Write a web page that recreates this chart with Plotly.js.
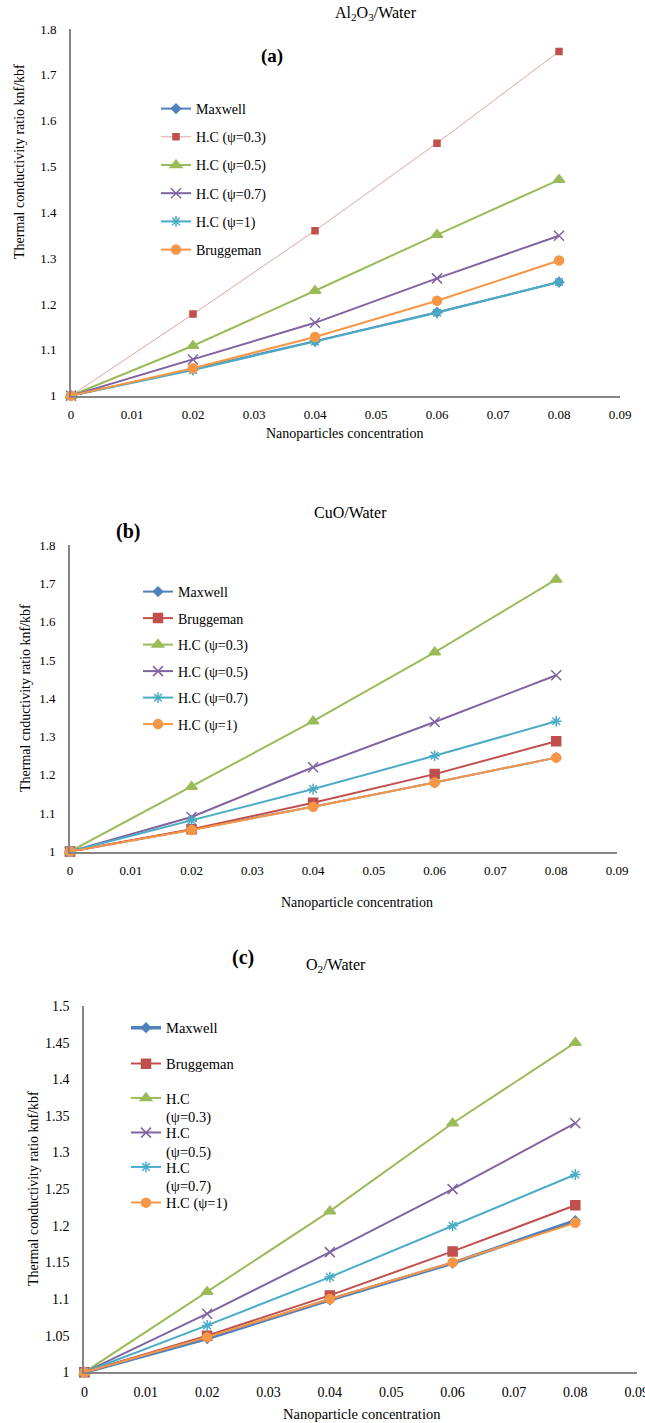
<!DOCTYPE html>
<html>
<head>
<meta charset="utf-8">
<script src="https://cdn.plot.ly/plotly-3.0.1.min.js"></script>
<style>html,body{margin:0;padding:0;background:#fff;overflow:hidden;} #chart{width:645px;height:1423px;}</style>
</head>
<body>
<div id="chart"></div>
<script>
// ---------- data ----------
const conc = [0, 0.02, 0.04, 0.06, 0.08];

// (a) Al2O3/Water
const maxwellA = [1, 1.058, 1.119, 1.182, 1.248];
const hc03A    = [1, 1.178, 1.360, 1.551, 1.751];
const hc05A    = [1, 1.109, 1.229, 1.351, 1.471];
const hc07A    = [1, 1.079, 1.159, 1.256, 1.349];
const hc1A     = [1, 1.056, 1.118, 1.181, 1.248];
const bruggA   = [1, 1.060, 1.128, 1.207, 1.295];

// (b) CuO/Water
const maxwellB = [1, 1.057, 1.117, 1.180, 1.245];
const bruggB   = [1, 1.058, 1.127, 1.202, 1.288];
const hc03B    = [1, 1.169, 1.340, 1.520, 1.710];
const hc05B    = [1, 1.090, 1.220, 1.338, 1.460];
const hc07B    = [1, 1.081, 1.163, 1.250, 1.340];
const hc1B     = [1, 1.056, 1.117, 1.180, 1.245];

// (c) O2/Water
const maxwellC = [1, 1.046, 1.099, 1.149, 1.207];
const bruggC   = [1, 1.050, 1.105, 1.165, 1.228];
const hc03C    = [1, 1.110, 1.220, 1.340, 1.450];
const hc05C    = [1, 1.080, 1.164, 1.250, 1.340];
const hc07C    = [1, 1.064, 1.130, 1.200, 1.270];
const hc1C     = [1, 1.048, 1.100, 1.150, 1.204];

// tick labels
const xTicks = [0, 0.01, 0.02, 0.03, 0.04, 0.05, 0.06, 0.07, 0.08, 0.09];
const xTickText = ["0", "0.01", "0.02", "0.03", "0.04", "0.05", "0.06", "0.07", "0.08", "0.09"];
const yTicksAB = [1, 1.1, 1.2, 1.3, 1.4, 1.5, 1.6, 1.7, 1.8];
const yTickTextAB = ["1", "1.1", "1.2", "1.3", "1.4", "1.5", "1.6", "1.7", "1.8"];
const yTicksC = [1, 1.05, 1.1, 1.15, 1.2, 1.25, 1.3, 1.35, 1.4, 1.45, 1.5];
const yTickTextC = ["1", "1.05", "1.1", "1.15", "1.2", "1.25", "1.3", "1.35", "1.4", "1.45", "1.5"];

// names
const namesA = ["Maxwell", "H.C (ψ=0.3)", "H.C (ψ=0.5)", "H.C (ψ=0.7)", "H.C (ψ=1)", "Bruggeman"];
const namesB = ["Maxwell", "Bruggeman", "H.C (ψ=0.3)", "H.C (ψ=0.5)", "H.C (ψ=0.7)", "H.C (ψ=1)"];
const namesC = ["Maxwell", "Bruggeman", "H.C<br>(ψ=0.3)", "H.C<br>(ψ=0.5)", "H.C<br>(ψ=0.7)", "H.C (ψ=1)"];

const titles = ["Al<sub>2</sub>O<sub>3</sub>/Water", "CuO/Water", "O<sub>2</sub>/Water"];
const panelLabels = ["(a)", "(b)", "(c)"];
const xTitles = ["Nanoparticles concentration", "Nanoparticle concentration", "Nanoparticle concentration"];
const yTitles = ["Thermal conductivity ratio knf/kbf", "Thermal cnductivity ratio knf/kbf", "Thermal conductivity ratio knf/kbf"];

// ---------- styles ----------
const W = 645, H = 1423;
const px = v => v / W;
const py = v => 1 - v / H;
const FONT = "Liberation Serif";
const C = {blue:"#4F81BD", red:"#C0504D", green:"#9BBB59", purple:"#8064A2", aqua:"#4BACC6", orange:"#F79646", lightred:"#D98A88"};

const sty = {
  maxwell: {color:C.blue, symbol:"diamond", size:7, lw:2},
  brugg:   {color:C.red, symbol:"square", size:9, lw:2},
  hc03:    {color:C.green, symbol:"triangle-up", size:10, lw:2},
  hc05:    {color:C.purple, symbol:"x-thin-open", size:10, lw:2},
  hc07:    {color:C.aqua, symbol:"asterisk-open", size:9, lw:2},
  hc1:     {color:C.orange, symbol:"circle", size:9, lw:2},
};

function tr(y, name, s, xa, ya, leg, grp, extra) {
  const t = {
    x: conc, y: y, name: name, type: "scatter", mode: "lines+markers",
    xaxis: xa, yaxis: ya, legend: leg, legendgroup: grp, cliponaxis: false,
    line: {color: s.color, width: s.lw},
    marker: {color: s.color, symbol: s.symbol, size: s.size, line: {color: s.color, width: 1.5}}
  };
  if (extra) Object.assign(t, extra);
  return t;
}

const data = [
  // (a)
  tr(maxwellA, namesA[0], sty.maxwell, "x", "y", "legend", "a0"),
  tr(hc03A, namesA[1], {color:C.red, symbol:"square", size:6, lw:0.8}, "x", "y", "legend", "a1",
     {line:{color:C.lightred, width:0.8}}),
  tr(hc05A, namesA[2], sty.hc03, "x", "y", "legend", "a2"),
  tr(hc07A, namesA[3], sty.hc05, "x", "y", "legend", "a3"),
  tr(hc1A, namesA[4], sty.hc07, "x", "y", "legend", "a4"),
  tr(bruggA, namesA[5], sty.hc1, "x", "y", "legend", "a5"),
  // (b)
  tr(maxwellB, namesB[0], sty.maxwell, "x2", "y2", "legend2", "b0"),
  tr(bruggB, namesB[1], sty.brugg, "x2", "y2", "legend2", "b1"),
  tr(hc03B, namesB[2], sty.hc03, "x2", "y2", "legend2", "b2"),
  tr(hc05B, namesB[3], sty.hc05, "x2", "y2", "legend2", "b3"),
  tr(hc07B, namesB[4], sty.hc07, "x2", "y2", "legend2", "b4"),
  tr(hc1B, namesB[5], sty.hc1, "x2", "y2", "legend2", "b5"),
  // (c)
  tr(maxwellC, namesC[0], {color:C.blue, symbol:"diamond", size:7, lw:3.5}, "x3", "y3", "legend3", "c0"),
  tr(bruggC, namesC[1], sty.brugg, "x3", "y3", "legend4", "c1"),
  tr(hc03C, namesC[2], sty.hc03, "x3", "y3", "legend5", "c2"),
  tr(hc05C, namesC[3], sty.hc05, "x3", "y3", "legend6", "c3"),
  tr(hc07C, namesC[4], sty.hc07, "x3", "y3", "legend7", "c4"),
  tr(hc1C, namesC[5], sty.hc1, "x3", "y3", "legend8", "c5"),
];

function xax(d, fs) {
  return {domain: [px(d[0]), px(d[1])], range: [0, 0.09], tickvals: xTicks, ticktext: xTickText,
    showline: true, linecolor: "#868686", linewidth: 2, ticks: "", showgrid: false, zeroline: false,
    tickfont: {size: fs, color: "#000", family: FONT}, ticklabelstandoff: 6, ticklabeloverflow: "allow",
    fixedrange: true};
}
function yax(d, r, tv, tt, fs) {
  return {domain: [py(d[1]), py(d[0])], range: r, tickvals: tv, ticktext: tt,
    showline: true, linecolor: "#868686", linewidth: 2, ticks: "", showgrid: false, zeroline: false,
    tickfont: {size: fs, color: "#000", family: FONT}, ticklabelstandoff: 10, fixedrange: true};
}

function leg(x, y, fs, extra) {
  return Object.assign({x: px(x), y: py(y), xanchor: "left", yanchor: "top", bgcolor: "rgba(0,0,0,0)", borderwidth: 0,
    font: {size: fs, color: "#000", family: FONT}, traceorder: "grouped", valign: "top"}, extra || {});
}

function ann(text, x, y, size, extra) {
  return Object.assign({text: text, x: px(x), y: py(y), xref: "paper", yref: "paper",
    xanchor: "center", yanchor: "middle", showarrow: false, font: {size: size, color: "#000", family: FONT}}, extra || {});
}

const cLegY = [1025.7, 1061.7, 1096, 1130.7, 1165, 1200.7];
const legOff = 14;

const layout = {
  width: W, height: H, margin: {l: 0, r: 0, t: 0, b: 0},
  paper_bgcolor: "#fff", plot_bgcolor: "#fff",
  font: {family: FONT, color: "#000", size: 13},
  showlegend: true,
  xaxis: xax([71, 620], 13), yaxis: yax([29, 395.7], [1, 1.8], yTicksAB, yTickTextAB, 13),
  xaxis2: Object.assign(xax([70, 617], 13), {anchor: "y2"}),
  yaxis2: Object.assign(yax([545, 851.5], [1, 1.8], yTicksAB, yTickTextAB, 13), {anchor: "x2"}),
  xaxis3: Object.assign(xax([84.4, 636.7], 14), {anchor: "y3"}),
  yaxis3: Object.assign(yax([1006, 1372.3], [1, 1.5], yTicksC, yTickTextC, 14), {anchor: "x3"}),
  legend: leg(156, 107 - legOff, 14, {tracegroupgap: 7}),
  legend2: leg(138, 590 - legOff, 14, {tracegroupgap: 5.3}),
  legend3: leg(126, cLegY[0] - legOff, 14.5),
  legend4: leg(126, cLegY[1] - legOff, 14.5),
  legend5: leg(126, cLegY[2] - legOff, 14.5),
  legend6: leg(126, cLegY[3] - legOff, 14.5),
  legend7: leg(126, cLegY[4] - legOff, 14.5),
  legend8: leg(126, cLegY[5] - legOff, 14.5),
  annotations: [
    ann(titles[0], 376, 13, 16),
    ann(titles[1], 350, 513, 16),
    ann(titles[2], 336, 965, 16),
    ann("<b>" + panelLabels[0] + "</b>", 272, 56, 19),
    ann("<b>" + panelLabels[1] + "</b>", 128, 531, 20),
    ann("<b>" + panelLabels[2] + "</b>", 243, 957, 20),
    ann(xTitles[0], 345, 433, 14),
    ann(xTitles[1], 357, 902, 14),
    ann(xTitles[2], 362, 1414, 14.5),
    ann(yTitles[0], 19, 162, 14, {textangle: -90}),
    ann(yTitles[1], 25, 698, 14, {textangle: -90}),
    ann(yTitles[2], 33, 1189, 14, {textangle: -90}),
  ]
};

Plotly.newPlot("chart", data, layout, {displayModeBar: false, staticPlot: true});
</script>
</body>
</html>
